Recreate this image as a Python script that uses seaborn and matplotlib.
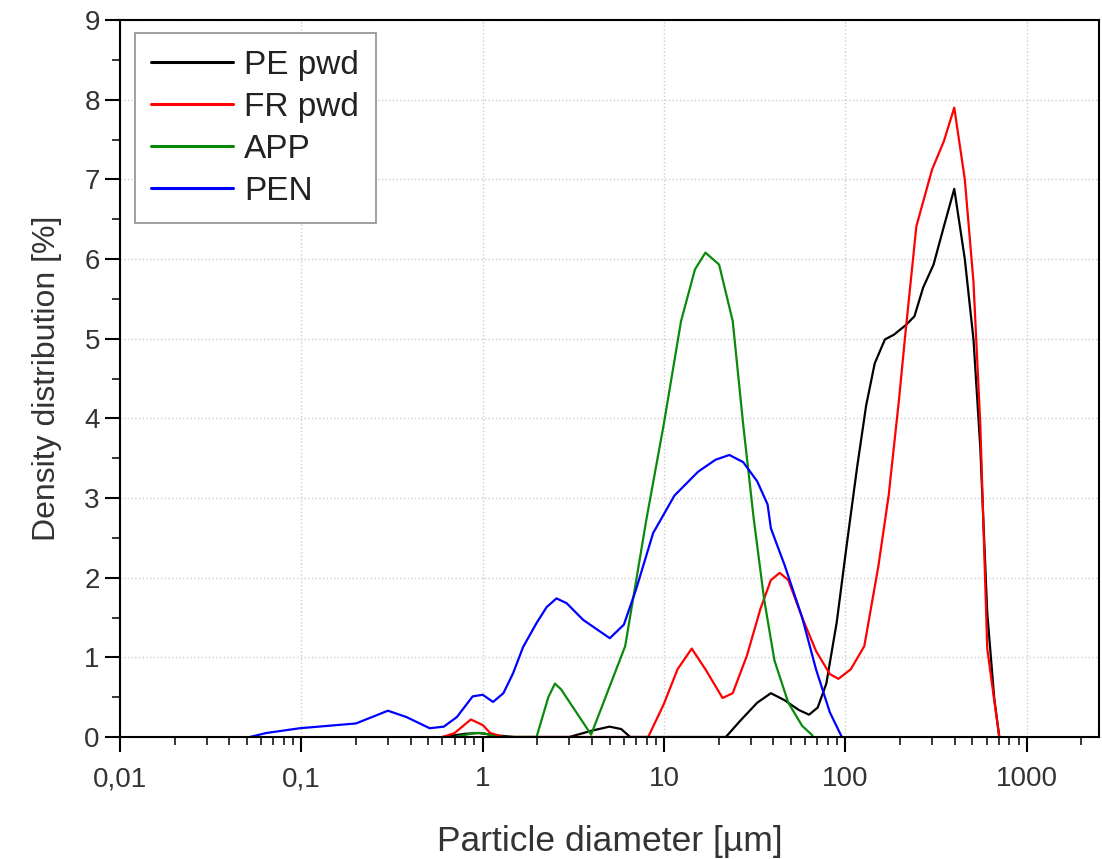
import numpy as np
import pandas as pd
import matplotlib
matplotlib.use("Agg")
import matplotlib.pyplot as plt
import seaborn as sns
from matplotlib.ticker import FixedLocator, FixedFormatter, LogLocator, MultipleLocator, NullFormatter

# ---- data ----
pe_x = [0.6, 0.8, 0.95, 1.2, 1.5, 3.0, 4.0, 5.0, 5.8, 6.5, 21.9, 26.2, 32.6, 38.8, 46.3, 55.2, 63, 70.3,
        78.4, 89.5, 102, 116, 130, 145, 165, 185, 215, 240, 268, 306, 349, 398, 455, 508, 554, 605, 661, 705]
pe_y = [0, 0.04, 0.05, 0.02, 0, 0, 0.08, 0.13, 0.1, 0, 0, 0.2, 0.43, 0.55, 0.46, 0.34, 0.28, 0.37,
        0.67, 1.44, 2.44, 3.39, 4.16, 4.69, 4.99, 5.05, 5.17, 5.28, 5.64, 5.93, 6.41, 6.88, 6.0, 4.99, 3.63, 1.56, 0.49, 0]

fr_x = [0.6, 0.7, 0.86, 1.0, 1.1, 1.3, 8.17, 9.95, 11.86, 14.2, 16.9, 21.0, 23.9, 28.6, 34.0, 38.8, 43.4,
        48.4, 57.7, 68.8, 82, 91.5, 107, 127, 152, 173, 197, 215, 246, 263, 300, 349, 398, 455, 508, 554,
        605, 661, 705]
fr_y = [0, 0.05, 0.22, 0.15, 0.05, 0, 0, 0.41, 0.85, 1.11, 0.85, 0.49, 0.55, 1.02, 1.61, 1.97, 2.06,
        1.97, 1.50, 1.08, 0.79, 0.73, 0.85, 1.14, 2.15, 3.03, 4.22, 5.11, 6.41, 6.65, 7.12, 7.48, 7.90, 7.00,
        5.71, 3.92, 1.11, 0.46, 0]

app_x = [0.7, 0.9, 1.0, 1.2, 1.98, 2.3, 2.5, 2.7, 3.96, 6.1, 8.0, 9.95, 12.4, 14.8, 16.9, 20.1, 23.9,
         27.3, 31.2, 35.6, 40.6, 48.4, 57.7, 65.8]
app_y = [0, 0.05, 0.05, 0, 0, 0.5, 0.67, 0.6, 0.03, 1.14, 2.74, 3.92, 5.22, 5.87, 6.08, 5.93, 5.22,
         3.92, 2.74, 1.73, 0.96, 0.43, 0.14, 0.02]

pen_x = [0.052, 0.064, 0.098, 0.20, 0.30, 0.38, 0.51, 0.61, 0.72, 0.88, 1.0, 1.14, 1.30, 1.47, 1.67, 1.98,
         2.25, 2.55, 2.90, 3.58, 5.02, 6.0, 7.0, 8.7, 11.4, 15.4, 19.2, 22.9, 27.3, 32.6, 37.2, 38.8, 46.3,
         57.7, 68.8, 82, 95.5]
pen_y = [0, 0.05, 0.11, 0.17, 0.33, 0.25, 0.11, 0.13, 0.25, 0.51, 0.53, 0.44, 0.55, 0.80, 1.13, 1.43,
         1.63, 1.74, 1.68, 1.47, 1.24, 1.41, 1.85, 2.56, 3.03, 3.33, 3.48, 3.54, 3.45, 3.21, 2.92, 2.62, 2.15,
         1.50, 0.85, 0.31, 0]

series_names = ["PE pwd", "FR pwd", "APP", "PEN"]
series_colors = ["#000000", "#ff0000", "#0a8a0a", "#0000ff"]

xtick_vals = [0.01, 0.1, 1, 10, 100, 1000]
xtick_labels = ["0,01", "0,1", "1", "10", "100", "1000"]

frames = []
for name, xs, ys in zip(series_names, [pe_x, fr_x, app_x, pen_x], [pe_y, fr_y, app_y, pen_y]):
    frames.append(pd.DataFrame({"d": xs, "v": ys, "Sample": name}))
df = pd.concat(frames, ignore_index=True)

sns.set_style("ticks")
plt.rcParams["font.family"] = ["Liberation Sans", "DejaVu Sans"]

fig = plt.figure(figsize=(11.02, 8.59), dpi=100)
ax = fig.add_axes([120 / 1102, 1 - 737 / 859, 979 / 1102, 717 / 859])

sns.lineplot(data=df, x="d", y="v", hue="Sample", hue_order=series_names,
             palette=dict(zip(series_names, series_colors)), estimator=None, sort=False,
             linewidth=1.6, ax=ax)

ax.set_xscale("log")
ax.set_xlim(0.01, 2500)
ax.set_ylim(0, 9)

ax.xaxis.set_major_locator(FixedLocator(xtick_vals))
ax.xaxis.set_major_formatter(FixedFormatter(xtick_labels))
ax.xaxis.set_minor_locator(LogLocator(base=10, subs=range(2, 10), numticks=20))
ax.xaxis.set_minor_formatter(NullFormatter())
ax.yaxis.set_major_locator(MultipleLocator(1))
ax.yaxis.set_minor_locator(MultipleLocator(0.5))

ax.tick_params(which="major", direction="out", length=11, width=1.5, labelsize=20, colors="black",
               labelcolor="#333333")
ax.tick_params(which="minor", direction="out", length=5.5, width=1.3)
ax.tick_params(axis="x", pad=10)

ax.grid(True, which="major", linestyle=":", color="#cccccc", linewidth=1.0)
for s in ax.spines.values():
    s.set_visible(True)
    s.set_linewidth(1.5)
    s.set_color("black")

ax.set_xlabel("Particle diameter [µm]", fontsize=25.5, color="#333333", labelpad=24)
ax.set_ylabel("Density distribution [%]", fontsize=23, color="#333333", labelpad=16)

leg = ax.legend(loc="upper left", bbox_to_anchor=(0.015, 0.982), borderaxespad=0, fancybox=False,
                edgecolor="#999999", framealpha=1, fontsize=24, handlelength=2.46, handletextpad=0.33,
                labelspacing=0.33, borderpad=0.5, title=None)
leg.get_frame().set_linewidth(1.3)
for line in leg.get_lines():
    line.set_linewidth(2.2)
for t in leg.get_texts():
    t.set_color("#222222")

fig.savefig("out.png", dpi=100)
